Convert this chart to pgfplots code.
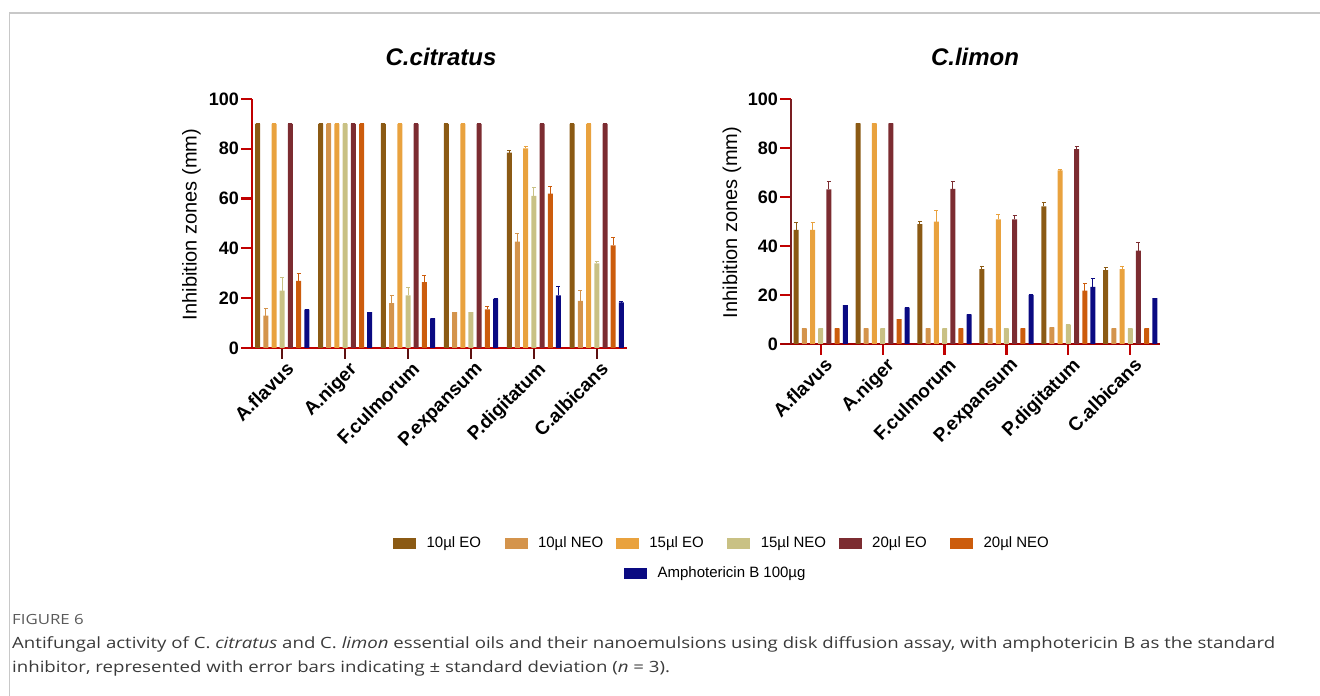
\documentclass[border=0pt]{standalone}
\usepackage{fontspec}
\setmainfont{Liberation Sans}
\newfontfamily\capfont{Open Sans}
\usepackage{graphicx}
\usepackage{pgfplots}
\pgfplotsset{compat=1.18}
\usepackage{pgfplotstable}

\definecolor{cA}{HTML}{8B5A14}
\definecolor{cB}{HTML}{D4944C}
\definecolor{cC}{HTML}{E9A23E}
\definecolor{cD}{HTML}{C9C184}
\definecolor{cE}{HTML}{7C2C31}
\definecolor{cF}{HTML}{CC5C0C}
\definecolor{cG}{HTML}{0A0A82}
\definecolor{axred}{HTML}{C00000}
\definecolor{axdark}{HTML}{5E1010}
\definecolor{axmaroon}{HTML}{7A1E22}
\definecolor{framegray}{HTML}{C8C8C8}
\definecolor{capgray}{HTML}{3A3A3A}
\definecolor{figgray}{HTML}{5A5A5A}

% C. citratus
\pgfplotstableread{
x e10 e10e n10 n10e e15 e15e n15 n15e e20 e20e n20 n20e amp ampe
0 90   0   13   3   90   0   23   5.5 90 0 27   3   15.4 0
1 90   0   90   0   90   0   90   0   90 0 90   0   14.4 0
2 90   0   18   3   90   0   21.1 3.1 90 0 26.5 2.5 11.9 0
3 90   0   14.4 0   90   0   14.4 0   90 0 15.5 1   19.7 0
4 78.5 0.9 42.7 3.2 80.2 0.6 61.1 3.3 90 0 62   3   21.1 3.4
5 90   0   18.9 4   90   0   34   0.9 90 0 41.2 3.1 18.3 0.3
}\citratus

% C. limon
\pgfplotstableread{
x e10 e10e n10 n10e e15 e15e n15 n15e e20 e20e n20 n20e amp ampe
0 46.6 3.1 6.4 0 46.6 3.1 6.4 0 63.1 3.4 6.4  0 15.9 0
1 90   0   6.4 0 90   0   6.4 0 90   0   10.2 0 14.8 0
2 48.9 1.1 6.4 0 49.9 4.7 6.4 0 63.3 3.2 6.4  0 12.1 0
3 30.6 1.2 6.4 0 50.9 1.8 6.4 0 50.9 1.7 6.4  0 20   0
4 56.2 1.7 6.8 0 70.9 0.2 7.9 0 79.5 1.1 21.8 3 23.3 3.3
5 30.2 1   6.4 0 30.6 1.2 6.4 0 38.1 3.2 6.4  0 18.7 0
}\limon

\newcommand{\bars}[4]{%
  \addplot[fill=#4, draw=none,
    error bars/.cd, y dir=plus, y explicit,
    error bar style={#4, line width=1pt},
    error mark options={#4, rotate=90, mark size=2pt, line width=1pt}]
    table[x=x, y=#2, y error plus=#3] {#1};
}

\pgfplotsset{
  chart/.style={
    scale only axis,
    ybar=3.2pt, bar width=5pt,
    ymin=0, ymax=100, ytick={0,20,40,60,80,100},
    xmin=-0.48, xmax=5.48, xtick={0,1,2,3,4,5},
    xticklabels={A.flavus,A.niger,F.culmorum,P.expansum,P.digitatum,C.albicans},
    axis x line*=bottom, axis y line*=left,
    axis line style={-},
    tick align=outside, major tick length=11pt,
    ticklabel style={font=\fontsize{18}{18}\selectfont\bfseries},
    xticklabel style={rotate=45, anchor=north east, inner sep=1pt,
      font=\fontsize{19}{19}\selectfont\bfseries, xshift=2pt, yshift=-2pt},
    yticklabel style={inner sep=2pt},
    /pgf/number format/assume math mode=true,
    clip=false,
  },
  legimg/.style={legend image code/.code={\fill[##1] (0pt,-5pt) rectangle (22pt,5pt);}},
}

\newcommand{\capone}{Antifungal activity of C. \textit{citratus} and C. \textit{limon} essential oils and their nanoemulsions using disk diffusion assay, with amphotericin B as the standard}
\newlength\capw
\AtBeginDocument{%
  \settowidth\capw{\fontsize{15.5}{18}\capfont\capone}%
  \pgfmathsetmacro\capsx{1263/\capw}%
}

\begin{document}
\begin{tikzpicture}[x=1pt,y=1pt]
\path[use as bounding box] (0,0) rectangle (1320,696);
\draw[framegray, line width=1.2pt] (9.5,0) -- (9.5,683) -- (1320,683);

% ---------- left chart ----------
\begin{axis}[chart, at={(252pt,348pt)}, anchor=south west,
  width=375pt, height=249pt,
  y axis line style={axred, line width=2.2pt},
  x axis line style={axred, line width=2.2pt, shorten <=-10pt},
  ytick style={axred, line width=2.2pt},
  xtick style={axdark, line width=2.2pt}]
\bars{\citratus}{e10}{e10e}{cA}
\bars{\citratus}{n10}{n10e}{cB}
\bars{\citratus}{e15}{e15e}{cC}
\bars{\citratus}{n15}{n15e}{cD}
\bars{\citratus}{e20}{e20e}{cE}
\bars{\citratus}{n20}{n20e}{cF}
\bars{\citratus}{amp}{ampe}{cG}
\end{axis}

% ---------- right chart ----------
\begin{axis}[chart, at={(791pt,352pt)}, anchor=south west,
  width=369pt, height=245pt,
  y axis line style={axmaroon, line width=2.2pt},
  x axis line style={axred!85!black, line width=2.2pt, shorten <=-10pt},
  ytick style={axred, line width=2.2pt},
  xtick style={axred, line width=2.2pt}]
\bars{\limon}{e10}{e10e}{cA}
\bars{\limon}{n10}{n10e}{cB}
\bars{\limon}{e15}{e15e}{cC}
\bars{\limon}{n15}{n15e}{cD}
\bars{\limon}{e20}{e20e}{cE}
\bars{\limon}{n20}{n20e}{cF}
\bars{\limon}{amp}{ampe}{cG}
\end{axis}

% titles and y labels
\node[font=\fontsize{24}{24}\selectfont\bfseries\itshape] at (441,639) {C.citratus};
\node[font=\fontsize{24}{24}\selectfont\bfseries\itshape] at (975,639) {C.limon};
\node[rotate=90, font=\fontsize{20}{20}\selectfont] at (191.5,471.5) {Inhibition zones (mm)};
\node[rotate=90, font=\fontsize{20}{20}\selectfont] at (732,473.5) {Inhibition zones (mm)};

% ---------- legend ----------
\begin{axis}[hide axis, scale only axis, width=10pt, height=10pt,
  at={(393pt,153pt)}, anchor=west, xmin=0, xmax=1, ymin=0, ymax=1,
  legimg, legend columns=6,
  legend style={at={(0,0.5)}, anchor=west, draw=none, fill=none,
    inner sep=0pt, column sep=11pt, nodes={inner sep=0pt},
    font=\fontsize{15}{15}\selectfont}]
\addlegendimage{cA}\addlegendentry{\makebox[67pt][l]{10µl EO}}
\addlegendimage{cB}\addlegendentry{\makebox[67pt][l]{10µl NEO}}
\addlegendimage{cC}\addlegendentry{\makebox[67pt][l]{15µl EO}}
\addlegendimage{cD}\addlegendentry{\makebox[67pt][l]{15µl NEO}}
\addlegendimage{cE}\addlegendentry{\makebox[67pt][l]{20µl EO}}
\addlegendimage{cF}\addlegendentry{\makebox[67pt][l]{20µl NEO}}
\end{axis}
\begin{axis}[hide axis, scale only axis, width=10pt, height=10pt,
  at={(624pt,123pt)}, anchor=west, xmin=0, xmax=1, ymin=0, ymax=1,
  legimg,
  legend style={at={(0,0.5)}, anchor=west, draw=none, fill=none,
    inner sep=0pt, column sep=11pt, nodes={inner sep=0pt},
    font=\fontsize{15}{15}\selectfont}]
\addlegendimage{cG}\addlegendentry{Amphotericin B 100µg}
\end{axis}

% ---------- caption ----------
\node[anchor=base west, inner sep=0pt, text=figgray] at (12,71)
  {\scalebox{\capsx}[1]{\fontsize{14}{16}\capfont FIGURE 6}};
\node[anchor=base west, inner sep=0pt, text=capgray] at (12,47.5)
  {\scalebox{\capsx}[1]{\fontsize{15.5}{18}\capfont\capone}};
\node[anchor=base west, inner sep=0pt, text=capgray] at (12,23.5)
  {\scalebox{\capsx}[1]{\fontsize{15.5}{18}\capfont inhibitor, represented with error bars indicating ± standard deviation (\textit{n} = 3).}};
\end{tikzpicture}
\end{document}
